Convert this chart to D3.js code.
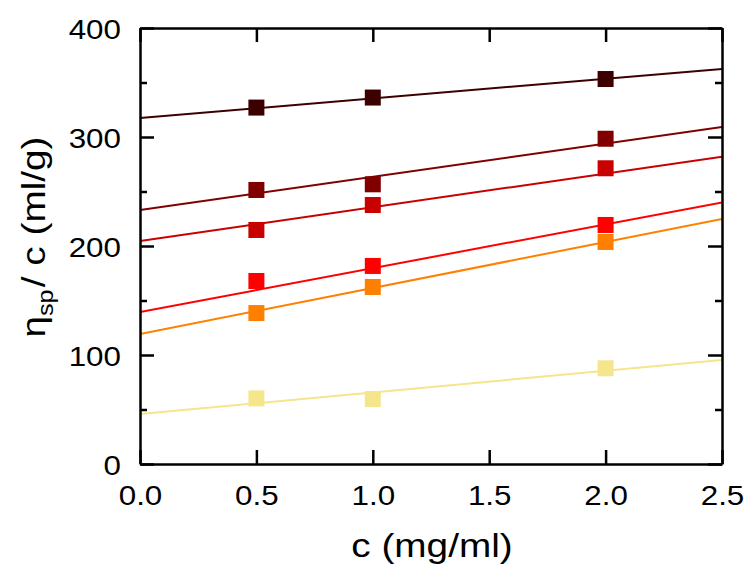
<!DOCTYPE html>
<html><head><meta charset="utf-8">
<script src="https://cdn.jsdelivr.net/npm/d3@7"></script>
<style>
html,body{margin:0;padding:0;background:#fff;}
svg{display:block;}
text{font-family:"Liberation Sans", Arial, sans-serif; fill:#000;}
</style></head>
<body><svg id="chart" width="747" height="578"></svg>
<script>
// ---- data ----
const concentrations = [0.5, 1.0, 2.0];
const seriesColors = ["#3c0000", "#800000", "#c80000", "#ff0000", "#ff8000", "#f5e68c"];
const series1 = [327.0, 336.2, 353.2];
const series2 = [251.4, 256.6, 298.4];
const series3 = [214.7, 237.6, 271.3];
const series4 = [167.9, 181.7, 219.3];
const series5 = [138.5, 162.4, 203.7];
const series6 = [60.2, 59.6, 87.8];
// fitted straight lines read at c = 0 and c = 2.5
const fitAtZero = [317.4, 233.0, 204.6, 139.4, 119.3, 45.9];
const fitAtEnd  = [362.4, 309.2, 282.0, 240.0, 224.8, 95.4];
const xTicks = [0.0, 0.5, 1.0, 1.5, 2.0, 2.5];
const xTickLabels = ["0.0", "0.5", "1.0", "1.5", "2.0", "2.5"];
const yTicks = [0, 100, 200, 300, 400];
const yMinorTicks = [50, 150, 250, 350];
const xTitle = "c (mg/ml)";

const allSeries = [series1, series2, series3, series4, series5, series6];

// ---- layout ----
const L = 140, R = 722, T = 28, B = 464;
const svg = d3.select("#chart");
const x = d3.scaleLinear().domain([0, 2.5]).range([L, R]);
const y = d3.scaleLinear().domain([0, 400]).range([B, T]);

svg.append("defs").append("clipPath").attr("id", "plotclip")
  .append("rect").attr("x", L).attr("y", T).attr("width", R - L).attr("height", B - T);

const plot = svg.append("g").attr("clip-path", "url(#plotclip)");

allSeries.forEach((vals, i) => {
  plot.append("line")
    .attr("x1", x(0)).attr("y1", y(fitAtZero[i]))
    .attr("x2", x(2.5)).attr("y2", y(fitAtEnd[i]))
    .attr("stroke", seriesColors[i]).attr("stroke-width", 2);
});
const ms = 16;
allSeries.forEach((vals, i) => {
  plot.selectAll(null).data(vals).enter().append("rect")
    .attr("x", (d, j) => x(concentrations[j]) - ms / 2)
    .attr("y", d => y(d) - ms / 2)
    .attr("width", ms).attr("height", ms)
    .attr("fill", seriesColors[i]);
});

// ---- axes ----
function styleAxis(g) {
  g.selectAll("path.domain").attr("stroke", "#000").attr("stroke-width", 2.5);
  g.selectAll(".tick line").attr("stroke", "#000").attr("stroke-width", 2.5);
}
const axBottom = svg.append("g").attr("transform", `translate(0,${B})`)
  .call(d3.axisBottom(x).tickValues(xTicks).tickSizeInner(-14).tickSizeOuter(0)
    .tickFormat((d, i) => xTickLabels[i]));
styleAxis(axBottom);
axBottom.selectAll(".tick text")
  .attr("y", null).attr("dy", null)
  .attr("font-size", 28).attr("font-family", null)
  .attr("transform", "translate(0,41) scale(1.12,1)");

const axTop = svg.append("g").attr("transform", `translate(0,${T})`)
  .call(d3.axisTop(x).tickValues(xTicks).tickSizeInner(-14).tickSizeOuter(0).tickFormat(""));
styleAxis(axTop);

const axLeft = svg.append("g").attr("transform", `translate(${L},0)`)
  .call(d3.axisLeft(y).tickValues(yTicks).tickSizeInner(-14).tickSizeOuter(0).tickFormat(d3.format("d")));
styleAxis(axLeft);
axLeft.selectAll(".tick text")
  .attr("x", null).attr("dy", null).attr("font-size", 28).attr("font-family", null)
  .attr("transform", "translate(-19,10) scale(1.12,1)");
const axLeftMinor = svg.append("g").attr("transform", `translate(${L},0)`)
  .call(d3.axisLeft(y).tickValues(yMinorTicks).tickSizeInner(-7).tickSizeOuter(0).tickFormat(""));
styleAxis(axLeftMinor);
axLeftMinor.select("path.domain").remove();

const axRight = svg.append("g").attr("transform", `translate(${R},0)`)
  .call(d3.axisRight(y).tickValues(yTicks).tickSizeInner(-14).tickSizeOuter(0).tickFormat(""));
styleAxis(axRight);
const axRightMinor = svg.append("g").attr("transform", `translate(${R},0)`)
  .call(d3.axisRight(y).tickValues(yMinorTicks).tickSizeInner(-7).tickSizeOuter(0).tickFormat(""));
styleAxis(axRightMinor);
axRightMinor.select("path.domain").remove();

// ---- titles ----
svg.append("text")
  .attr("transform", `translate(${(L + R) / 2 + 1},557) scale(1.14,1)`)
  .attr("text-anchor", "middle").attr("font-size", 34)
  .text(xTitle);

const yt = svg.append("text")
  .attr("transform", "translate(45,237) rotate(-90) scale(1.14,1)")
  .attr("text-anchor", "middle").attr("font-size", 34);
yt.append("tspan").text("η");
yt.append("tspan").attr("font-size", 22).attr("dy", 8).text("sp");
yt.append("tspan").attr("dy", -8).attr("dx", 2).text("/ c (ml/g)");
</script></body></html>
